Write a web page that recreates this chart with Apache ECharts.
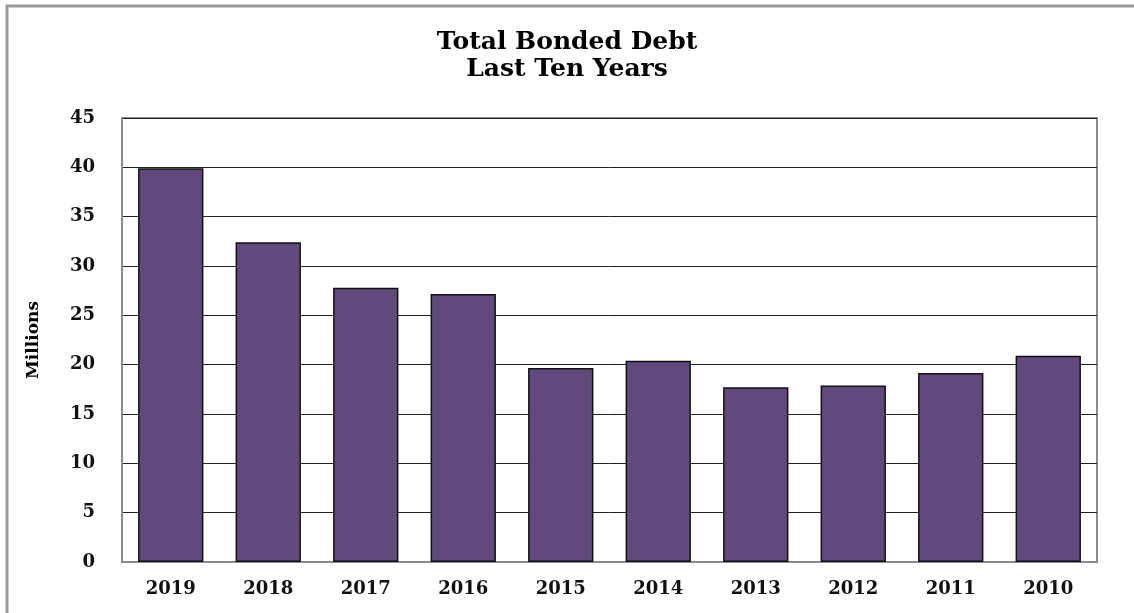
<!DOCTYPE html>
<html><head><meta charset="utf-8">
<script src="https://cdn.jsdelivr.net/npm/echarts@6/dist/echarts.min.js"></script>
<style>html,body{margin:0;padding:0;background:#fff}#c{width:1134px;height:613px}</style>
</head><body><div id="c"></div>
<script>
const categories = ['2019','2018','2017','2016','2015','2014','2013','2012','2011','2010'];
const values = [39.9, 32.4, 27.8, 27.15, 19.65, 20.4, 17.7, 17.9, 19.15, 20.9];
const titleLines = ['Total Bonded Debt', 'Last Ten Years'];
const yName = 'Millions';
const F = 'DejaVu Serif';
const chart = echarts.init(document.getElementById('c'));
chart.setOption({
  animation: false,
  backgroundColor: '#fff',
  title: {
    text: titleLines.join('\n'), left: 'center', top: 24,
    textStyle: {fontFamily: F, fontWeight: 'bold', fontSize: 25, lineHeight: 27, color: '#000'}
  },
  graphic: [{type: 'rect', shape: {x: 7, y: 6, width: 1300, height: 800}, style: {fill: 'none', stroke: '#999', lineWidth: 3}, z: 100}],
  grid: {left: 122, right: 37, top: 118, bottom: 51, show: true, borderColor: '#8c8c8c', borderWidth: 2, backgroundColor: '#fff'},
  xAxis: {
    type: 'category', data: categories,
    axisLine: {show: true, lineStyle: {color: '#8c8c8c', width: 2}},
    axisTick: {show: false},
    axisLabel: {fontFamily: F, fontWeight: 'bold', fontSize: 18, color: '#111', margin: 18}
  },
  yAxis: {
    type: 'value', min: 0, max: 45, interval: 5,
    name: yName, nameLocation: 'middle', nameGap: 80, nameRotate: 90,
    nameTextStyle: {fontFamily: F, fontWeight: 'bold', fontSize: 17, color: '#000'},
    axisLine: {show: true, lineStyle: {color: '#8c8c8c', width: 2}},
    axisTick: {show: false},
    axisLabel: {fontFamily: F, fontWeight: 'bold', fontSize: 18, color: '#111', margin: 27},
    splitLine: {lineStyle: {color: '#222', width: 1}}
  },
  series: [{
    type: 'bar', data: values, barWidth: '67%',
    itemStyle: {color: '#604a7b', borderColor: '#111', borderWidth: 1.5}
  }]
});
</script></body></html>
